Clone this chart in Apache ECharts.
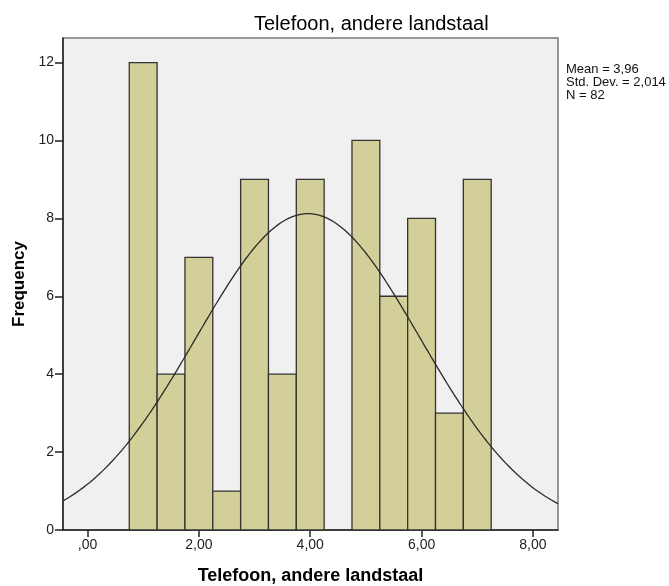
<!DOCTYPE html>
<html>
<head>
<meta charset="utf-8">
<script src="https://cdn.jsdelivr.net/npm/echarts@6/dist/echarts.min.js"></script>
<style>
  html, body { margin: 0; padding: 0; background: #fff; }
  #chart { width: 669px; height: 586px; }
</style>
</head>
<body>
<div id="chart"></div>
<script>
// Histogram bins (lower edge, upper edge) and frequencies
const binStarts = [0.75, 1.25, 1.75, 2.25, 2.75, 3.25, 3.75, 4.25, 4.75, 5.25, 5.75, 6.25, 6.75];
const binWidth = 0.5;
const frequencies = [12, 4, 7, 1, 9, 4, 9, 0, 10, 6, 8, 3, 9];

// Summary statistics shown beside the plot
const statMean = 3.96;
const statStdDev = 2.014;
const statN = 82;

// Axis ticks
const xTicks = [0, 2, 4, 6, 8];
const yTicks = [0, 2, 4, 6, 8, 10, 12];

const xMin = -0.44, xMax = 8.45;
const yMax = 12.63;

function fmtComma(v, digits) {
  return v.toFixed(digits).replace('.', ',').replace(/^0,/, ',');
}

// Fitted normal curve, scaled to bin counts
const curve = [];
const steps = 300;
for (let i = 0; i <= steps; i++) {
  const x = xMin + (xMax - xMin) * i / steps;
  const z = (x - statMean) / statStdDev;
  const y = statN * binWidth * Math.exp(-0.5 * z * z) / (statStdDev * Math.sqrt(2 * Math.PI));
  curve.push([x, y]);
}

const barData = binStarts.map((s, i) => [s, s + binWidth, frequencies[i]]);

const chart = echarts.init(document.getElementById('chart'), null, { renderer: 'canvas' });
const fontFam = '"Liberation Sans", Arial, sans-serif';

chart.setOption({
  animation: false,
  backgroundColor: '#ffffff',
  title: {
    text: 'Telefoon, andere landstaal',
    left: 249,
    top: 9,
    textStyle: { fontFamily: fontFam, fontSize: 20, fontWeight: 'normal', color: '#000' }
  },
  grid: {
    left: 63, right: 111, top: 38, bottom: 56,
    outerBoundsMode: 'none',
    containLabel: false,
    show: true,
    backgroundColor: '#f0f0f0',
    borderColor: '#777',
    borderWidth: 1.5
  },
  xAxis: {
    type: 'value',
    min: xMin,
    max: xMax,
    name: 'Telefoon, andere landstaal',
    nameLocation: 'middle',
    nameGap: 37,
    nameTextStyle: { fontFamily: fontFam, fontSize: 18, fontWeight: 'bold', color: '#000' },
    axisLine: { show: true, onZero: false, lineStyle: { color: '#222', width: 1.5 } },
    axisTick: { show: true, length: 7, customValues: xTicks, lineStyle: { color: '#222', width: 1.5 } },
    axisLabel: {
      customValues: xTicks,
      formatter: v => fmtComma(v, 2),
      fontFamily: fontFam, fontSize: 14, color: '#222', margin: 8
    },
    splitLine: { show: false }
  },
  yAxis: {
    type: 'value',
    min: 0,
    max: yMax,
    name: 'Frequency',
    nameLocation: 'middle',
    nameGap: 34,
    nameRotate: 90,
    nameTextStyle: { fontFamily: fontFam, fontSize: 17, fontWeight: 'bold', color: '#000' },
    axisLine: { show: true, onZero: false, lineStyle: { color: '#222', width: 1.5 } },
    axisTick: { show: true, length: 8, customValues: yTicks, lineStyle: { color: '#222', width: 1.5 } },
    axisLabel: {
      customValues: yTicks,
      fontFamily: fontFam, fontSize: 14, color: '#222', margin: 9
    },
    splitLine: { show: false }
  },
  graphic: [{
    type: 'text',
    left: 566,
    top: 63,
    style: {
      text: 'Mean = ' + fmtComma(statMean, 2) + '\nStd. Dev. = ' + fmtComma(statStdDev, 3) + '\nN = ' + statN,
      fontFamily: fontFam,
      fontSize: 13,
      lineHeight: 13,
      fill: '#111'
    }
  }],
  series: [
    {
      type: 'custom',
      data: barData,
      encode: { x: [0, 1], y: 2 },
      renderItem: function (params, api) {
        const x0 = api.value(0), x1 = api.value(1), h = api.value(2);
        if (h <= 0) return null;
        const p0 = api.coord([x0, h]);
        const p1 = api.coord([x1, 0]);
        return {
          type: 'rect',
          shape: { x: p0[0], y: p0[1], width: p1[0] - p0[0], height: p1[1] - p0[1] },
          style: { fill: '#d3cf98', stroke: '#333', lineWidth: 1.3 }
        };
      },
      z: 2
    },
    {
      type: 'line',
      data: curve,
      showSymbol: false,
      smooth: false,
      clip: true,
      lineStyle: { color: '#2a2a2a', width: 1.3 },
      z: 3
    }
  ]
});
</script>
</body>
</html>
